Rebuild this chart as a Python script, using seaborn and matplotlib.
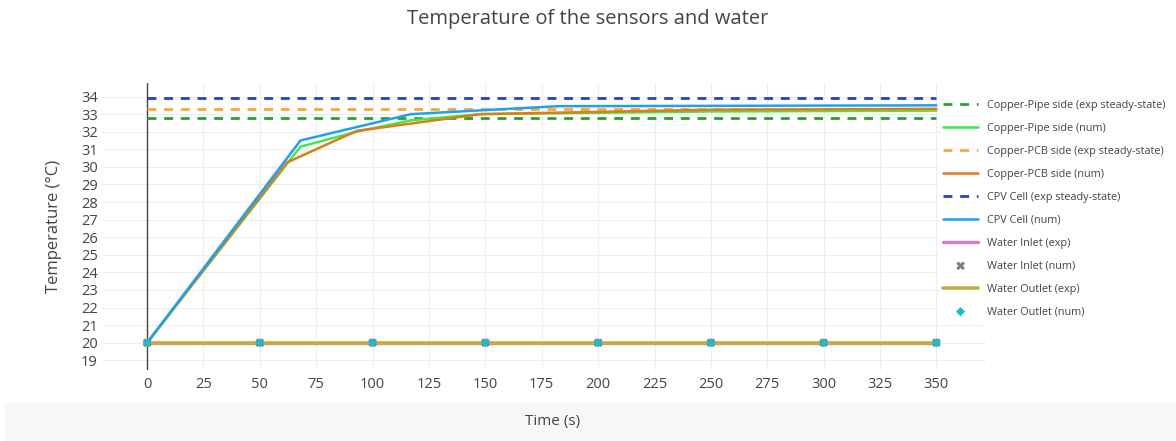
import numpy as np
import pandas as pd
import matplotlib
matplotlib.use("Agg")
import matplotlib.pyplot as plt
import seaborn as sns

# ---- data ----
steady_t = [0, 350]
pipe_exp = 32.8
pcb_exp = 33.3
cpv_exp = 33.9

pipe_t = [0, 68, 93, 117, 148, 250, 350]
pipe_num = [20, 31.15, 32.0, 32.65, 33.0, 33.15, 33.2]

pcb_t = [0, 62, 93, 148, 250, 350]
pcb_num = [20, 30.25, 32.05, 33.0, 33.25, 33.3]

cpv_t = [0, 68, 117, 182, 350]
cpv_num = [20, 31.5, 33.0, 33.45, 33.5]

water_exp_t = [0, 350]
inlet_exp = [20, 20]
outlet_exp = [20, 20]

water_num_t = [0, 50, 100, 150, 200, 250, 300, 350]
inlet_num = [20, 20, 20, 20, 20, 20, 20, 20]
outlet_num = [20, 20, 20, 20, 20, 20, 20, 20]

x_ticks = list(range(0, 351, 25))
y_ticks = list(range(19, 35))

sns.set_style("whitegrid")
plt.rcParams['font.family'] = ['Open Sans', 'DejaVu Sans']

fig = plt.figure(figsize=(11.76, 4.41), dpi=100)
ax = fig.add_axes([102 / 1176, 1 - 370 / 441, 884 / 1176, 287 / 441])

# grey band behind x-axis title
fig.patches.append(plt.Rectangle((5 / 1176, 0), 1, 38 / 441, transform=fig.transFigure,
                                 color='#f7f7f7', zorder=-10))

dash = (0, (3.2, 2.8))

def steady(val, color, label):
    d = pd.DataFrame({'t': steady_t, 'T': [val] * len(steady_t)})
    sns.lineplot(data=d, x='t', y='T', color=color, lw=2.0, ls=dash, label=label, ax=ax)

def curve(t, v, color, label, lw=1.8):
    d = pd.DataFrame({'t': t, 'T': v})
    sns.lineplot(data=d, x='t', y='T', color=color, lw=lw, label=label, ax=ax, sort=False)

ax.axvline(0, color='#444444', lw=1.0, zorder=1)

steady(pipe_exp, '#2ca02c', 'Copper-Pipe side (exp steady-state)')
curve(pipe_t, pipe_num, '#3cec4c', 'Copper-Pipe side (num)')
steady(pcb_exp, '#f5a83c', 'Copper-PCB side (exp steady-state)')
curve(pcb_t, pcb_num, '#e07b1c', 'Copper-PCB side (num)')
steady(cpv_exp, '#2a3fc8', 'CPV Cell (exp steady-state)')
curve(cpv_t, cpv_num, '#20a0f0', 'CPV Cell (num)')
curve(water_exp_t, inlet_exp, '#e377c2', 'Water Inlet (exp)', lw=2.4)
sns.scatterplot(x=water_num_t, y=inlet_num, color='#7f7f7f', marker='X', s=40,
                edgecolor='none', label='Water Inlet (num)', ax=ax, zorder=4)
curve(water_exp_t, outlet_exp, '#c6ad3c', 'Water Outlet (exp)', lw=2.6)
sns.scatterplot(x=water_num_t, y=outlet_num, color='#17becf', marker='D', s=22,
                edgecolor='none', label='Water Outlet (num)', ax=ax, zorder=5)

ax.set_xlim(-20, 372)
ax.set_ylim(18.45, 34.77)
ax.set_xticks(x_ticks)
ax.set_yticks(y_ticks)
ax.grid(True, color='#eeeeee', lw=0.8)
for s in ax.spines.values():
    s.set_visible(False)
ax.tick_params(axis='both', length=0, labelsize=10.5, colors='#444444')
ax.tick_params(axis='x', pad=5)
ax.tick_params(axis='y', pad=3)

ax.set_xlabel('Time (s)', fontsize=11, color='#444444')
ax.xaxis.set_label_coords(0.51, -0.152)
ax.set_ylabel('Temperature (°C)', fontsize=12, color='#444444', labelpad=14)
fig.text(0.5, 1 - 19 / 441, 'Temperature of the sensors and water', ha='center', va='center',
         fontsize=14.5, color='#444444')

handles, labels = ax.get_legend_handles_labels()
leg = ax.legend(handles, labels, loc='upper left', bbox_to_anchor=(940 / 1176, 1 - 97 / 441),
                bbox_transform=fig.transFigure, borderaxespad=0, borderpad=0.3,
                frameon=True, fancybox=False, framealpha=1, edgecolor='white',
                fontsize=7.8, labelspacing=1.1, handlelength=3.2, handletextpad=0.8,
                labelcolor='#444444')

fig.savefig('out.png', dpi=100)
